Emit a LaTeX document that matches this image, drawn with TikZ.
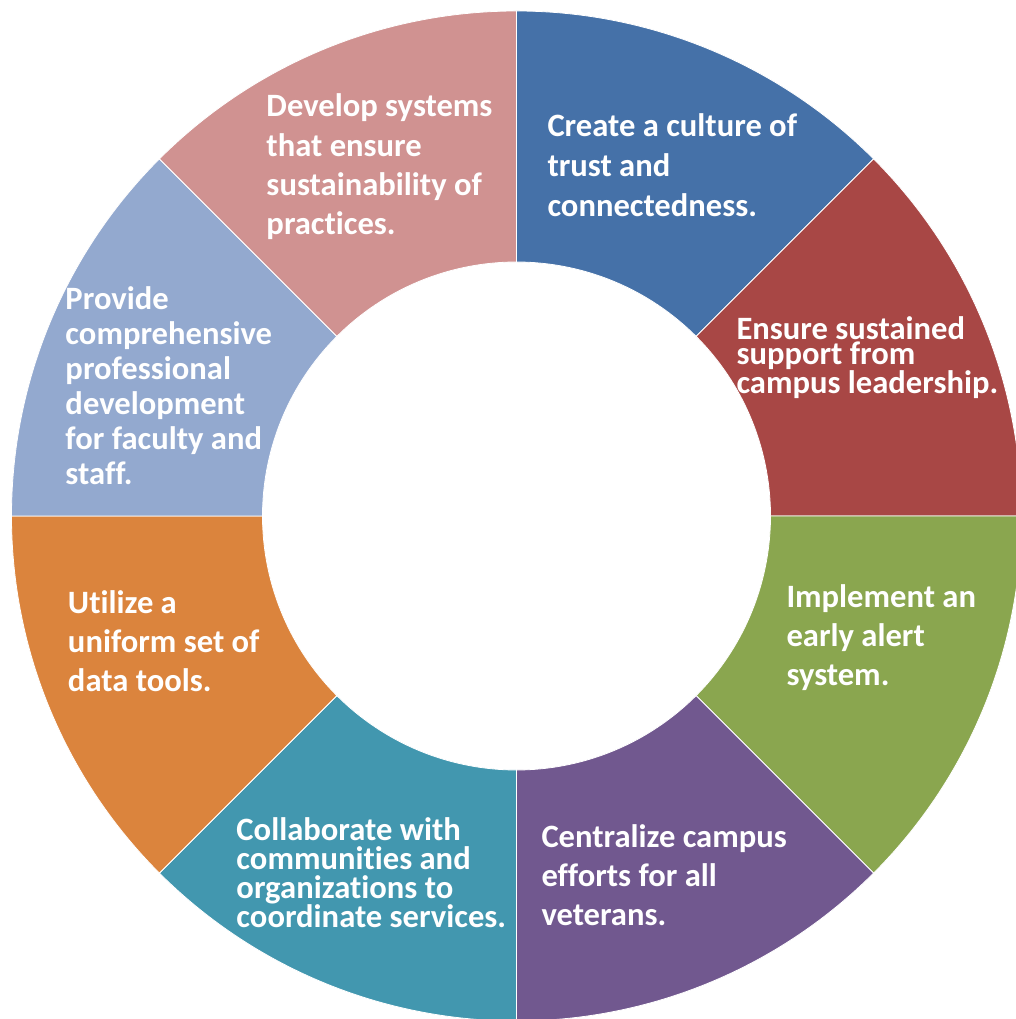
\documentclass[tikz,border=0pt]{standalone}
\usepackage{fontspec}
\newfontfamily\carlito[Ligatures=NoCommon]{Carlito}

\definecolor{segblue}{HTML}{4571A8}
\definecolor{segred}{HTML}{A84745}
\definecolor{seggreen}{HTML}{8AA64F}
\definecolor{segpurple}{HTML}{71588F}
\definecolor{segteal}{HTML}{4297AF}
\definecolor{segorange}{HTML}{DB843D}
\definecolor{seglblue}{HTML}{93A9CF}
\definecolor{segpink}{HTML}{D09291}

\begin{document}
\begin{tikzpicture}[
    x = 1pt,
    y = 1pt,
    segment/.style = {draw=white, line width=0.8pt},
    seglabel/.style = {text=white, align=left, anchor=north west,
    inner sep=0pt, outer sep=0pt},
]
\useasboundingbox (-516.5,-503) rectangle (499.5,516);
\clip (-516.5,-503) rectangle (499.5,516);

\def\rin{254}
\def\rout{505}

% ring of eight segments
\foreach \a/\col in {45/segblue, 0/segred, -45/seggreen, -90/segpurple,
    -135/segteal, -180/segorange, -225/seglblue, -270/segpink}{
    \fill[segment, fill=\col] (\a:\rin) -- (\a:\rout)
        arc[start angle=\a, end angle=\a+45, radius=\rout]
        -- ({\a+45}:\rin)
        arc[start angle=\a+45, end angle=\a, radius=\rin] -- cycle;
}

\node[seglabel, font=\carlito\bfseries\fontsize{32.6}{40}\selectfont] (culture) at (31,405)
    {\rule{0pt}{26pt}Create a culture of\\trust and\\connectedness.};
\node[seglabel, font=\carlito\bfseries\fontsize{32.6}{25}\selectfont] (support) at (220,202)
    {\rule{0pt}{26pt}Ensure sustained\\support from\\campus leadership.};
\node[seglabel, font=\carlito\bfseries\fontsize{32.6}{39}\selectfont] (alert) at (270,-65)
    {\rule{0pt}{26pt}Implement an\\early alert\\system.};
\node[seglabel, font=\carlito\bfseries\fontsize{32.6}{39}\selectfont] (efforts) at (25,-305)
    {\rule{0pt}{26pt}Centralize campus\\efforts for all\\veterans.};
\node[seglabel, font=\carlito\bfseries\fontsize{32.6}{29}\selectfont] (services) at (-280,-298)
    {\rule{0pt}{26pt}Collaborate with\\communities and\\organizations to\\coordinate services.};
\node[seglabel, font=\carlito\bfseries\fontsize{32.6}{39}\selectfont] (tools) at (-448.5,-71.7)
    {\rule{0pt}{26pt}Utilize a\\uniform set of\\data tools.};
\node[seglabel, font=\carlito\bfseries\fontsize{32.6}{35}\selectfont] (training) at (-451,232)
    {\rule{0pt}{26pt}Provide\\comprehensive\\professional\\development\\for faculty and\\staff.};
\node[seglabel, font=\carlito\bfseries\fontsize{32.6}{39.3}\selectfont] (practices) at (-250,425)
    {\rule{0pt}{26pt}Develop systems\\that ensure\\sustainability of\\practices.};

\end{tikzpicture}
\end{document}
